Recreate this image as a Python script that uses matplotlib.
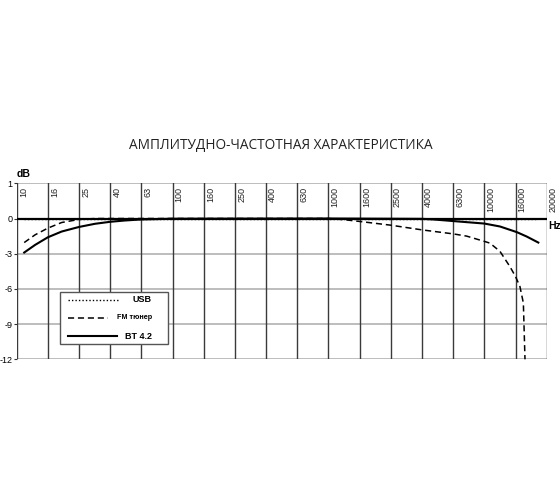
import numpy as np
import matplotlib
matplotlib.use("Agg")
import matplotlib.pyplot as plt
from matplotlib.lines import Line2D

plt.rcParams['font.family'] = ['Liberation Sans', 'DejaVu Sans']

# frequency ticks (evenly spaced on the chart)
freq_ticks = [10, 16, 25, 40, 63, 100, 160, 250, 400, 630, 1000,
              1600, 2500, 4000, 6300, 10000, 16000, 20000]
db_ticks = [1, 0, -3, -6, -9, -12]

# USB - flat
usb_f = [11.2, 100, 1000, 10000, 18830]
usb_db = [0, 0, 0, 0, 0]

# FM tuner
fm_f = [11.2, 13.2, 16, 19.5, 25, 31.8, 100, 1000, 1265, 1600, 2500, 4000,
        6300, 7685, 10000, 10880, 12650, 14700, 16000, 16510, 16920, 17110, 17120]
fm_db = [-2.05, -1.39, -0.82, -0.34, -0.08, 0, 0, 0, -0.1, -0.25, -0.57, -0.97,
         -1.31, -1.5, -1.95, -2.1, -2.8, -4.1, -4.95, -5.8, -7.2, -11.8, -12]

# BT 4.2
bt_f = [11.2, 13.2, 16, 19.5, 25, 31.8, 40, 49.5, 63, 100, 1000, 4000,
        4710, 7685, 10000, 12650, 16140, 17340, 18830]
bt_db = [-2.9, -2.25, -1.6, -1.11, -0.72, -0.45, -0.28, -0.17, -0.08, -0.02, 0, -0.03,
         -0.08, -0.31, -0.43, -0.68, -1.16, -1.54, -2.05]


def fpos(f):
    return np.interp(np.log10(f), np.log10(freq_ticks), np.arange(len(freq_ticks)))


# the band above 0 dB is stretched: 1 dB there takes the room of 3 dB below
def y_fwd(y):
    y = np.asarray(y, dtype=float)
    return np.where(y > 0, 3 * y, y)


def y_inv(y):
    y = np.asarray(y, dtype=float)
    return np.where(y > 0, y / 3, y)


fig = plt.figure(figsize=(5.6, 5.04), dpi=100)
ax = fig.add_axes([0.0298, 0.2871, 0.9465, 0.3492])
ax.set_yscale('function', functions=(y_fwd, y_inv))
ax.set_xlim(0, len(freq_ticks) - 1)
ax.set_ylim(-12, 1)
for s in ax.spines.values():
    s.set_visible(False)

for y in [1, -3, -6, -9, -12]:
    ax.axhline(y, color='#b8b8b8', lw=1.3, zorder=1)
for i in range(len(freq_ticks)):
    ax.axvline(i, color='#3a3a3a', lw=1.0, zorder=2)
ax.axhline(0, color='black', lw=1.6, zorder=3)

ax.set_xticks([])
ax.set_yticks(db_ticks)
ax.set_yticklabels([str(v) for v in db_ticks], fontsize=6.5)
ax.yaxis.set_minor_locator(plt.NullLocator())
ax.tick_params(axis='y', length=2.5, width=0.8, pad=0.6, color='#333333')

for i, f in enumerate(freq_ticks):
    ax.text(i + 0.07, 0.9, str(f), rotation=90, ha='left', va='top', fontsize=6.5,
            color='#222222')

ax.plot(fpos(usb_f), usb_db, color='black', lw=1.0, ls=(0, (1, 1.5)), zorder=4)
ax.plot(fpos(fm_f), fm_db, color='black', lw=1.1, ls=(0, (4, 2.5)), zorder=4,
        clip_on=False)
ax.plot(fpos(bt_f), bt_db, color='black', lw=1.5, zorder=5)

ax.text(0, 1.27, 'dB', fontsize=7.5, fontweight='bold', ha='left', va='center')
ax.text(len(freq_ticks) - 1 + 0.05, -0.62, 'Hz', fontsize=7.5, fontweight='bold',
        ha='left', va='center')

# legend box
ax.add_patch(plt.Rectangle((0.0817, 0.087), 0.2038, 0.295, transform=ax.transAxes,
                           facecolor='white', edgecolor='#555555', lw=1.0, zorder=6))
ax.add_line(Line2D([0.0968, 0.191], [0.337, 0.337], transform=ax.transAxes,
                   color='black', lw=1.0, ls=(0, (1, 1.5)), zorder=7))
ax.add_line(Line2D([0.0968, 0.172], [0.235, 0.235], transform=ax.transAxes,
                   color='black', lw=1.1, ls=(0, (4, 2.5)), zorder=7))
ax.add_line(Line2D([0.0968, 0.189], [0.132, 0.132], transform=ax.transAxes,
                   color='black', lw=1.5, zorder=7))
ax.text(0.2547, 0.337, 'USB', transform=ax.transAxes, ha='right', va='center',
        fontsize=6.5, fontweight='bold', zorder=7)
ax.text(0.2547, 0.235, 'FM тюнер', transform=ax.transAxes, ha='right', va='center',
        fontsize=5.2, fontweight='bold', zorder=7)
ax.text(0.2547, 0.132, 'BT 4.2', transform=ax.transAxes, ha='right', va='center',
        fontsize=6.5, fontweight='bold', zorder=7)

fig.text(0.502, 0.712, 'АМПЛИТУДНО-ЧАСТОТНАЯ ХАРАКТЕРИСТИКА', family='Open Sans',
         fontsize=9.8, ha='center', va='center', color='#222222')

fig.savefig('out.png', dpi=100)
